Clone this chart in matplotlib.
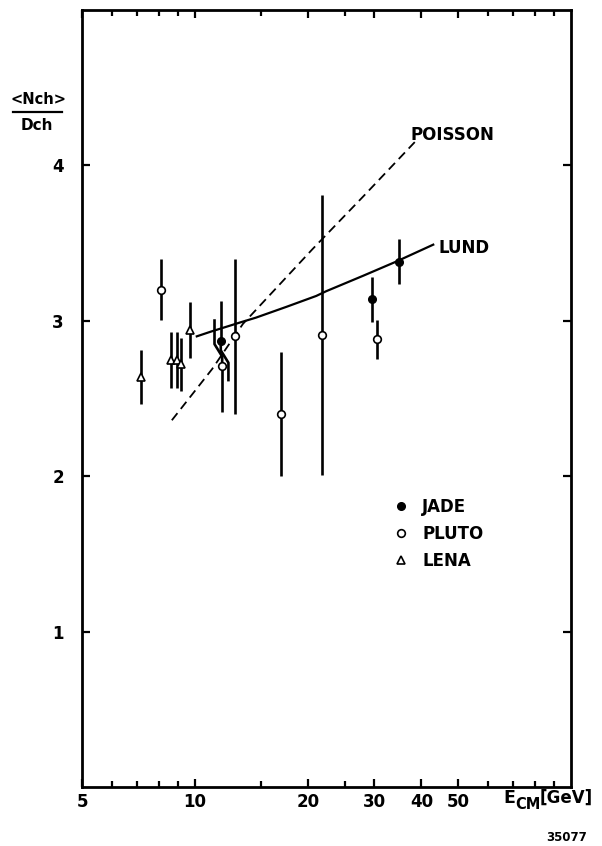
import numpy as np
import matplotlib
matplotlib.use('Agg')
import matplotlib.pyplot as plt
from matplotlib.lines import Line2D

# <Nch>/Dch versus centre of mass energy
jade_E = [11.7, 29.6, 34.8]
jade_y = [2.87, 3.14, 3.38]
jade_err = [0.26, 0.145, 0.145]
jade_shift = [1.048, 1.0, 1.0]      # lower half of bar drawn offset to the right

pluto_E = [8.13, 11.8, 12.8, 16.9, 21.7, 30.5]
pluto_y = [3.20, 2.71, 2.90, 2.40, 2.91, 2.88]
pluto_err = [0.195, 0.30, 0.50, 0.40, 0.90, 0.125]
pluto_shift = [1.0, 1 / 1.048, 1.0, 1.0, 1.0, 1.0]   # upper half offset to the left

lena_E = [7.17, 8.61, 8.97, 9.19, 9.70]
lena_y = [2.64, 2.75, 2.75, 2.72, 2.94]
lena_err = [0.175, 0.18, 0.18, 0.17, 0.18]

poisson_E = [8.67, 11.1, 13.4, 20.5, 28.0, 38.4]
poisson_y = [2.36, 2.69, 2.98, 3.46, 3.80, 4.15]

lund_E = [10.1, 11.0, 13.2, 14.5, 17.5, 21.0, 22.3, 28.0, 34.2, 43.0]
lund_y = [2.90, 2.93, 2.99, 3.02, 3.09, 3.16, 3.19, 3.29, 3.38, 3.49]

x_major = [5, 10, 20, 30, 40, 50]
x_minor = [6, 7, 8, 9, 15, 25, 60, 70, 80, 90]
y_major = [1, 2, 3, 4]

fs = 12
plt.rcParams['font.family'] = ['DejaVu Sans']
plt.rcParams['font.weight'] = 'bold'

fig = plt.figure(figsize=(6.02, 8.46), dpi=100)
W, H = 602.0, 846.0
left, right, top, bottom = 82, 571, 10, 787
ax = fig.add_axes([left / W, 1 - bottom / H, (right - left) / W, (bottom - top) / H])


def bars(E, y, err, shift, upper_shift):
    # vertical error bar, one half optionally kinked sideways
    for e, v, d, s in zip(E, y, err, shift):
        up = [(e, v), (e, v + d)]
        lo = [(e, v), (e, v - d)]
        if s != 1.0:
            kinked = [(e, 0), (e, 0.06), (e * s, 0.14), (e * s, d)]
            if upper_shift:
                up = [(px, v + py) for px, py in kinked]
            else:
                lo = [(px, v - py) for px, py in kinked]
        for seg in (up, lo):
            xs, ys = zip(*seg)
            ax.plot(xs, ys, color='k', lw=1.9, solid_capstyle='butt', zorder=3)


bars(jade_E, jade_y, jade_err, jade_shift, False)
bars(pluto_E, pluto_y, pluto_err, pluto_shift, True)
bars(lena_E, lena_y, lena_err, [1.0] * len(lena_E), True)

ax.plot(jade_E, jade_y, 'o', ms=5.5, mfc='k', mec='k', ls='none', zorder=4)
ax.plot(pluto_E, pluto_y, 'o', ms=5.5, mfc='white', mec='k', mew=1.2, ls='none', zorder=4)
ax.plot(lena_E, lena_y, '^', ms=5.5, mfc='white', mec='k', mew=1.2, ls='none', zorder=4)

ln, = ax.plot(poisson_E, poisson_y, color='k', lw=1.3, zorder=2)
ln.set_dashes((5, 3))
ax.plot(lund_E, lund_y, color='k', lw=1.6, zorder=2)

ax.text(0.671, 0.839, 'POISSON', transform=ax.transAxes, fontsize=fs, va='center', ha='left')
ax.text(0.730, 0.694, 'LUND', transform=ax.transAxes, fontsize=fs, va='center', ha='left')

handles = [Line2D([], [], marker='o', ls='none', ms=5.5, mfc='k', mec='k'),
           Line2D([], [], marker='o', ls='none', ms=5.5, mfc='white', mec='k', mew=1.2),
           Line2D([], [], marker='^', ls='none', ms=5.5, mfc='white', mec='k', mew=1.2)]
ax.legend(handles, ['JADE', 'PLUTO', 'LENA'], loc='upper left', bbox_to_anchor=(0.636, 0.372),
          frameon=False, fontsize=fs, handlelength=1.0, handletextpad=0.75,
          labelspacing=0.55, borderpad=0, borderaxespad=0)

ax.set_xscale('log')
ax.set_xlim(5, 100)
ax.set_ylim(0, 5)
ax.set_xticks(x_major)
ax.set_xticklabels([str(v) for v in x_major])
ax.set_xticks(x_minor, minor=True)
ax.set_xticklabels([], minor=True)
ax.set_yticks(y_major)
ax.set_yticklabels([str(v) for v in y_major])
ax.tick_params(which='both', direction='in', top=True, right=True, width=1.6, labelsize=fs)
ax.tick_params(axis='x', which='major', length=6, pad=4)
ax.tick_params(axis='x', which='minor', length=4)
ax.tick_params(axis='y', which='major', length=6, pad=13)
for sp in ax.spines.values():
    sp.set_linewidth(2.0)

# axis titles in the corners, as on the original plate
fig.text(38 / W, 1 - 99 / H, '<Nch>', fontsize=fs - 1.5, ha='center', va='center')
fig.add_artist(Line2D([13 / W, 62 / W], [1 - 112 / H, 1 - 112 / H], color='k', lw=1.6))
fig.text(37 / W, 1 - 126 / H, 'Dch', fontsize=fs - 1, ha='center', va='center')
fig.text(503 / W, 1 - 798 / H, 'E', fontsize=fs + 0.5, ha='left', va='center')
fig.text(515 / W, 1 - 804 / H, 'CM', fontsize=fs - 1.5, ha='left', va='center')
fig.text(540 / W, 1 - 798 / H, '[GeV]', fontsize=fs, ha='left', va='center')
fig.text(567 / W, 1 - 837 / H, '35077', fontsize=8.5, ha='center', va='center')

fig.savefig('out.png', dpi=100)
